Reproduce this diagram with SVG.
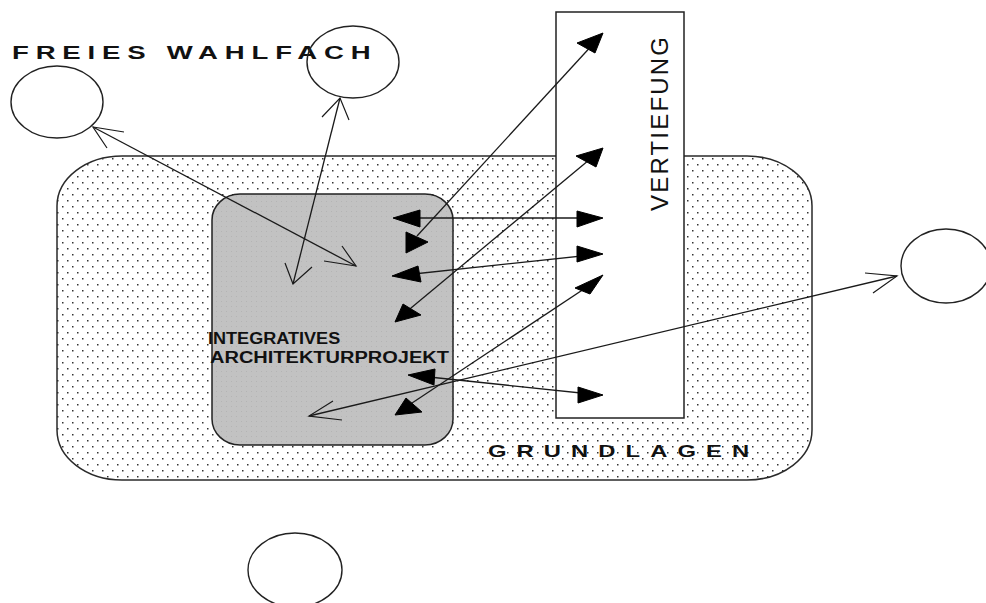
<svg xmlns="http://www.w3.org/2000/svg" width="986" height="603" viewBox="0 0 986 603">
<style>
.lbl{font-family:"Liberation Sans",Arial,sans-serif;fill:#111}
.ln{stroke:#1a1a1a;stroke-width:1.3;fill:none}
.arm{stroke:#1a1a1a;stroke-width:1.2;fill:none}
.tri{fill:#000;stroke:#000;stroke-width:1}
.circ{fill:none;stroke:#222;stroke-width:1.4}
</style>
<defs>
<pattern id="dots" width="10" height="12" patternUnits="userSpaceOnUse">
<rect x="2" y="2" width="1.5" height="1.5" fill="#333"/>
<rect x="7" y="8" width="1.5" height="1.5" fill="#333"/>
</pattern>
<pattern id="gdots" width="5" height="5" patternUnits="userSpaceOnUse">
<rect width="5" height="5" fill="#c2c2c2"/>
<rect x="1" y="1" width="1" height="1" fill="#b4b4b4"/>
</pattern>
</defs>
<rect width="986" height="603" fill="#fff"/>

<g id="grundlagen">
<rect x="57" y="156" width="755" height="324" rx="65" ry="50" fill="#fff"/>
<rect x="57" y="156" width="755" height="324" rx="65" ry="50" fill="url(#dots)" stroke="#2a2a2a" stroke-width="1.5"/>
<text class="lbl" transform="translate(488,457) scale(1.4,1)" font-size="17" font-weight="bold" letter-spacing="7.2">GRUNDLAGEN</text>
</g>

<g id="projekt">
<rect x="212" y="194" width="241" height="251" rx="28" ry="26" fill="url(#gdots)" stroke="#222" stroke-width="1.5"/>
<text class="lbl" transform="translate(208,344) scale(1.13,1)" font-size="16" font-weight="bold">INTEGRATIVES</text>
<text class="lbl" transform="translate(210,363) scale(1.25,1)" font-size="16" font-weight="bold">ARCHITEKTURPROJEKT</text>
</g>

<g id="vertiefung">
<rect x="556" y="12" width="128" height="406" fill="#fff" stroke="#222" stroke-width="1.5"/>
<text class="lbl" transform="translate(668,211) rotate(-90)" font-size="24" letter-spacing="2.2">VERTIEFUNG</text>
</g>

<g id="wahlfach-label">
<text class="lbl" transform="translate(12,59) scale(1.45,1)" font-size="19" font-weight="bold" letter-spacing="4.7">FREIES WAHLFACH</text>
</g>

<g id="circle-topleft"><ellipse class="circ" cx="57" cy="102" rx="46" ry="36"/></g>
<g id="circle-topmid"><ellipse class="circ" cx="353" cy="62" rx="46" ry="36"/></g>
<g id="circle-right"><ellipse class="circ" cx="946" cy="266" rx="45" ry="37"/></g>
<g id="circle-bottom"><ellipse class="circ" cx="295" cy="570" rx="47" ry="37"/></g>

<g id="connectors">
<line class="ln" x1="93" y1="127" x2="356" y2="266"/>
<polyline class="arm" points="124,132 93,127 107,148"/>
<polyline class="arm" points="324,261 356,266 342,246"/>

<line class="ln" x1="340" y1="98" x2="293" y2="284"/>
<polyline class="arm" points="322,117 340,98 349,120"/>
<polyline class="arm" points="285,263 293,284 312,267"/>

<line class="ln" x1="309" y1="416" x2="897" y2="276"/>
<polyline class="arm" points="865,273 897,276 873,293"/>
<polyline class="arm" points="333,401 309,416 342,420"/>

<line class="ln" x1="395" y1="218" x2="600" y2="218"/>
<polygon class="tri" points="393,218 420,210 420,227"/>
<polygon class="tri" points="603,218 577,211 577,227"/>

<line class="ln" x1="417" y1="236" x2="595" y2="42"/>
<polygon class="tri" points="603,33 577,43 595,53"/>
<polygon class="tri" points="428,242 406,232 406,253"/>

<line class="ln" x1="405" y1="313" x2="595" y2="155"/>
<polygon class="tri" points="603,148 576,156 596,167"/>
<polygon class="tri" points="395,322 403,304 421,315"/>

<line class="ln" x1="395" y1="276" x2="600" y2="254"/>
<polygon class="tri" points="392,276 418,266 421,282"/>
<polygon class="tri" points="603,254 577,246 577,262"/>

<line class="ln" x1="403" y1="409" x2="596" y2="281"/>
<polygon class="tri" points="603,275 575,288 590,294"/>
<polygon class="tri" points="395,415 406,398 422,412"/>

<line class="ln" x1="410" y1="375" x2="600" y2="395"/>
<polygon class="tri" points="408,375 435,369 434,385"/>
<polygon class="tri" points="603,395 578,387 578,403"/>
</g>
</svg>
